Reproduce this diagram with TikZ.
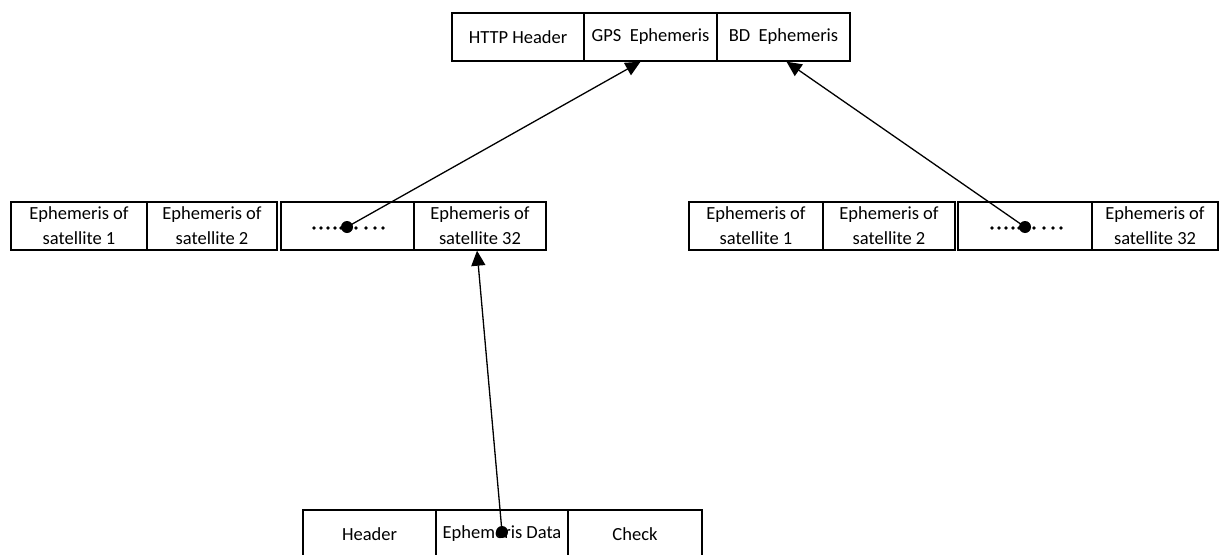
\documentclass[tikz,border=0pt]{standalone}
\usepackage{fontspec}
\setmainfont{Carlito}
\usetikzlibrary{arrows.meta,calc}
\begin{document}
\begin{tikzpicture}[x=1pt,y=-1pt,
  cell/.style={draw,line width=1.4pt,inner sep=0pt,align=center,font=\fontsize{18.5}{25}\selectfont},
  conn/.style={line width=1.3pt,-{Triangle[length=15pt,width=14pt]}},
  bigdot/.style={circle,fill,inner sep=0pt,minimum size=12pt},
  smalldot/.style={circle,fill,inner sep=0pt,minimum size=3.8pt}]
\useasboundingbox (0,0) rectangle (1222,554);
% top packet
\node[cell,minimum width=132pt,minimum height=48pt] (http) at (518,37) {HTTP Header};
\node[cell,minimum width=133pt,minimum height=48pt] (gps) at (650.5,37) {GPS\ \ Ephemeris};
\node[cell,minimum width=133pt,minimum height=48pt] (bd) at (783.5,37) {BD\ \ Ephemeris};
% left row (GPS)
\node[cell,minimum width=136pt,minimum height=48pt] (g1) at (79,226) {Ephemeris of\\satellite 1};
\node[cell,minimum width=130pt,minimum height=48pt] (g2) at (212,226) {Ephemeris of\\satellite 2};
\node[cell,minimum width=133pt,minimum height=48pt] (g3) at (347.5,226) {};
\node[cell,minimum width=132pt,minimum height=48pt] (g32) at (480,226) {Ephemeris of\\satellite 32};
% right row (BD)
\node[cell,minimum width=134pt,minimum height=48pt] (b1) at (756,226) {Ephemeris of\\satellite 1};
\node[cell,minimum width=132pt,minimum height=48pt] (b2) at (889,226) {Ephemeris of\\satellite 2};
\node[cell,minimum width=134pt,minimum height=48pt] (b3) at (1025,226) {};
\node[cell,minimum width=126pt,minimum height=48pt] (b32) at (1155,226) {Ephemeris of\\satellite 32};
% bottom row
\node[cell,minimum width=133pt,minimum height=48pt] (hdr) at (369.5,534) {Header};
\node[cell,minimum width=132pt,minimum height=48pt] (ed) at (502,534) {Ephemeris Data};
\node[cell,minimum width=134pt,minimum height=48pt] (chk) at (635,534) {Check};
% dots in ellipsis cells
\foreach \x in {314,321,328,335,341,356,366,375,383}
  \node[smalldot] at (\x,228) {};
\foreach \x in {992,999,1006,1013,1019,1034,1044,1053,1061}
  \node[smalldot] at (\x,228) {};
\node[bigdot] (gd) at (347,227) {};
\node[bigdot] (bdd) at (1025,227) {};
\node[bigdot] (edd) at (502,532) {};
% connectors
\draw[conn] (gd.center) -- ([xshift=-10pt]gps.south);
\draw[conn] (bdd.center) -- ([xshift=3pt]bd.south);
\draw[conn] (edd.center) -- ([xshift=-3pt]g32.south);
\end{tikzpicture}
\end{document}
